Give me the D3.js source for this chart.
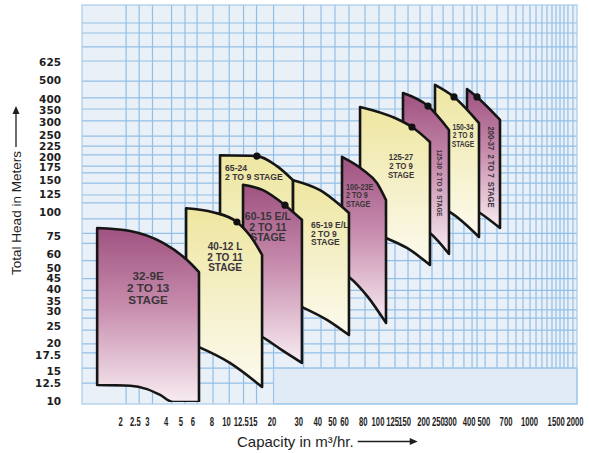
<!DOCTYPE html>
<html><head><meta charset="utf-8">
<script src="https://cdn.jsdelivr.net/npm/d3@7"></script>
<style>
body{margin:0;background:#fff;}
svg{display:block;}
</style>
</head><body>
<svg id="chart" width="589" height="453"></svg>
<script>
// ---------- DATA ----------
const xTickValues = [2, 2.5, 3, 4, 5, 6, 8, 10, 12.5, 15, 20, 30, 40, 50, 60, 80, 100, 125, 150, 200, 250, 300, 400, 500, 700, 1000, 1500, 2000];
const yTickValues = [10, 12.5, 15, 17.5, 20, 25, 30, 35, 40, 45, 50, 60, 75, 100, 125, 150, 175, 200, 225, 250, 300, 350, 400, 500, 625];
const xGridValues = [2.19, 2.67, 3.27, 4.37, 5.36, 6.44, 8.21, 10.5, 13.05, 15.9, 20.6, 32.5, 42.4, 52.4, 64.8, 82.7, 102.3, 130.5, 159, 191, 229, 271, 315, 372, 421, 454, 513, 615, 727, 821, 913, 1016, 1113, 1218, 1315, 1419, 1507, 1603, 1702, 1808, 1951];
const yGridValues = [12.6, 15.1, 18.2, 20.3, 24, 27.8, 30.7, 35.5, 39, 45, 56, 69, 78, 93, 113, 124.5, 144, 163, 177, 203, 226, 255, 307, 355, 406, 499, 637, 756, 896, 1012];
const bandStart = [20.6, 15.1];   // capacity, head: plain box at bottom right

const pumpModels = ["32-9E", "40-12 L", "65-24", "60-15 E/L", "65-19 E/L", "100-23E", "125-27", "125-30", "150-34", "200-37"];
const pumpStages = ["2 TO 13", "2 TO 11", "2 TO 9", "2 TO 11", "2 TO 9", "2 TO 9", "2 TO 9", "2 TO 9", "2 TO 8", "2 TO 7"];
const pumpTints  = ["purple", "yellow", "yellow", "purple", "yellow", "purple", "yellow", "purple", "yellow", "purple"];

// upper limit curve of each range, [capacity m3/hr, head m]
const topEdges = [
  [[1.41, 83.3], [2.33, 80.3], [3.84, 69.4], [5.53, 56.4], [6.63, 48.7]],
  [[5.45, 106], [8.2, 101], [11.8, 89.6], [15.1, 72], [17.3, 60]],
  [[9.13, 202], [16.0, 200], [21.7, 177], [27.7, 149]],
  [[12.95, 141], [17.55, 132], [24.5, 110], [31.7, 92]],
  [[27.7, 149], [41.7, 132], [64.8, 100]],
  [[58.3, 198], [80.2, 169], [99.2, 144], [113.8, 117]],
  [[76.7, 364], [130.5, 318], [168.9, 285], [222, 237.5]],
  [[147.3, 431], [215.4, 368], [296.4, 275]],
  [[239.6, 476], [319.9, 411], [467.7, 299]],
  [[389.8, 453], [453.8, 411], [643.7, 311]]
];
// lower limit curve of each range
const bottomEdges = [
  [[1.41, 12.3], [2.33, 12.2], [3.01, 11.7], [3.67, 10.9], [4.47, 10], [6.63, 10]],
  [[5.45, 20.8], [6.63, 19.5], [10.6, 16.1], [17.3, 12.0]],
  [[9.13, 34.6], [16.0, 28.9], [27.7, 22.6]],
  [[12.95, 24.6], [17.3, 22.1], [23.4, 18.8], [31.7, 16.1]],
  [[27.7, 33.4], [31.7, 31.8], [46.4, 27.2], [64.8, 22.6]],
  [[58.3, 48.7], [64.8, 45.9], [86.6, 35.9], [113.8, 26.2]],
  [[76.7, 83.3], [113.8, 73.7], [156.5, 65.3], [222, 53.1]],
  [[147.3, 89.6], [222, 78.4], [296.4, 60.7]],
  [[239.6, 110], [301, 101], [467.7, 74.6]],
  [[389.8, 110], [474.9, 100], [643.7, 83.3]]
];
const bepPoints = [null, [11.8, 89.6], [16.0, 200], [24.5, 110], null, null, [168.9, 285], [215.4, 368], [319.9, 411], [453.8, 411]];

// ---------- LAYOUT ----------
const labelLayout = [
  {at: [3.06, 46.5], mode: "three", anchor: "middle", size: 11.5, lh: 12.2, sx: 1.02},
  {at: [9.85, 66.1], mode: "three", anchor: "middle", size: 10, lh: 10.3, sx: 1.0},
  {at: [9.85, 173], mode: "two", anchor: "start", size: 9, lh: 9.3, sx: 0.96},
  {at: [18.9, 95.3], mode: "three", anchor: "middle", size: 10, lh: 10.2, sx: 1.05},
  {at: [36.4, 86.4], mode: "three", anchor: "start", size: 8.5, lh: 8.7, sx: 1.0},
  {at: [61.9, 137.3], mode: "three", anchor: "start", size: 8.2, lh: 8.6, sx: 0.88},
  {at: [142.9, 197], mode: "three", anchor: "middle", size: 8.2, lh: 9, sx: 0.95},
  {at: [258.5, 144.1], mode: "vertical", size: 8, len: 67},
  {at: [366.6, 285], mode: "three", anchor: "middle", size: 8.4, lh: 8.5, sx: 0.8},
  {at: [561, 175], mode: "vertical", size: 9, len: 81}
];
const drawOrder = [9, 8, 7, 6, 5, 2, 4, 3, 1, 0];
// small pixel nudges of crowded tick labels, as printed
const yTickNudge = {250: -2.5, 225: 0.5, 200: 1.5, 175: 1, 150: 1, 50: -1.5, 40: 1.5, 35: 2.5, 20: -1.5, 15: 2.5};

// ---------- CHART ----------
const svg = d3.select("#chart");
const x = d3.scaleLog().domain([1.12, 2075]).range([82, 577]);
const y = d3.scaleLog().domain([10, 1260]).range([402, 5]);
const [x0, x1] = x.range();
const yTop = 5, yBot = 404;

const defs = svg.append("defs");
defs.append("clipPath").attr("id", "plotClip").append("rect")
  .attr("x", x0).attr("y", yTop).attr("width", x1 - x0).attr("height", yBot - yTop - 2);
const gradStops = {
  purple: [[0, "#9f5280"], [0.45, "#c78cad"], [1, "#f8ecf2"]],
  yellow: [[0, "#eee6a0"], [0.5, "#f5f0c8"], [1, "#fcfaef"]]
};
Object.entries(gradStops).forEach(([k, stops]) => {
  const g = defs.append("linearGradient").attr("id", "grad-" + k)
    .attr("x1", 0).attr("y1", 0).attr("x2", 0).attr("y2", 1);
  stops.forEach(s => g.append("stop").attr("offset", s[0]).attr("stop-color", s[1]));
});

// plot background
svg.append("rect").attr("x", x0).attr("y", yTop).attr("width", x1 - x0).attr("height", yBot - yTop)
  .attr("fill", "#e9f0f7");

const grid = svg.append("g").attr("stroke", "#92bfe7").attr("stroke-width", 1.2);
grid.selectAll("line.h").data(yGridValues).join("line")
  .attr("x1", x0).attr("x2", x1).attr("y1", d => y(d)).attr("y2", d => y(d));
grid.selectAll("line.v").data(xGridValues).join("line")
  .attr("x1", d => x(d)).attr("x2", d => x(d)).attr("y1", yTop).attr("y2", yBot);

// plain box bottom right
svg.append("rect").attr("x", x(bandStart[0])).attr("y", y(bandStart[1]))
  .attr("width", x1 - x(bandStart[0])).attr("height", yBot - y(bandStart[1]))
  .attr("fill", "#e0ebf6").attr("stroke", "#9fc6ea").attr("stroke-width", 1.2);

svg.append("rect").attr("x", x0).attr("y", yTop).attr("width", x1 - x0).attr("height", yBot - yTop)
  .attr("fill", "none").attr("stroke", "#a7cbea").attr("stroke-width", 1.2);

// pump ranges
const lineGen = d3.line().x(d => x(d[0])).y(d => y(d[1])).curve(d3.curveMonotoneX);
const shapes = svg.append("g").attr("clip-path", "url(#plotClip)");

drawOrder.forEach(i => {
  const g = shapes.append("g");
  const top = lineGen(topEdges[i]);
  const bot = lineGen(bottomEdges[i].slice().reverse()).replace(/^M/, "L");
  g.append("path").attr("d", top + bot + "Z")
    .attr("fill", `url(#grad-${pumpTints[i]})`)
    .attr("stroke", "#151515").attr("stroke-width", 2.6).attr("stroke-linejoin", "round");
  if (bepPoints[i]) {
    g.append("circle").attr("cx", x(bepPoints[i][0])).attr("cy", y(bepPoints[i][1])).attr("r", 3.6)
      .attr("fill", "#111");
  }
  const L = labelLayout[i];
  const px = x(L.at[0]), py = y(L.at[1]);
  const font = g.append("g").attr("font-family", "'Liberation Sans', Arial, sans-serif")
    .attr("font-weight", "bold").attr("fill", "#3a3539");
  if (L.mode === "vertical") {
    font.append("text").attr("transform", `translate(${px},${py}) rotate(90)`)
      .attr("text-anchor", "middle").attr("dy", "0.35em").attr("font-size", L.size)
      .attr("textLength", L.len).attr("lengthAdjust", "spacingAndGlyphs")
      .style("white-space", "pre")
      .text(`${pumpModels[i]}  ${pumpStages[i]}  STAGE`);
  } else {
    const lines = L.mode === "two" ? [pumpModels[i], pumpStages[i] + " STAGE"] : [pumpModels[i], pumpStages[i], "STAGE"];
    const t = font.append("g").attr("transform", `translate(${px},${py}) scale(${L.sx},1)`);
    lines.forEach((s, k) => t.append("text").attr("y", k * L.lh).attr("dy", "0.35em")
      .attr("text-anchor", L.anchor).attr("font-size", L.size).text(s));
  }
});

// axes
const fmt = d => String(d);
const yAxis = svg.append("g").attr("transform", `translate(${x0},0)`)
  .call(d3.axisLeft(y).tickValues(yTickValues).tickFormat(fmt).tickSize(0).tickPadding(21));
yAxis.select(".domain").remove();
yAxis.selectAll(".tick").attr("transform", d => `translate(0,${y(d) + (yTickNudge[d] || 0)})`);
yAxis.selectAll("text").attr("font-family", "'DejaVu Sans', sans-serif").attr("font-weight", "bold")
  .attr("font-size", 10.5).attr("fill", "#1e1e1e");

const xAxis = svg.append("g").attr("transform", `translate(0,${yBot - 1})`)
  .call(d3.axisBottom(x).tickValues(xTickValues).tickFormat(fmt).tickSize(0).tickPadding(14.5));
xAxis.select(".domain").remove();
xAxis.selectAll("text").attr("font-family", "'Liberation Sans', Arial, sans-serif").attr("font-weight", "bold")
  .attr("font-size", 12).attr("fill", "#1e1e1e").attr("transform", "scale(0.64,1)");

// titles
const xt = svg.append("text").attr("x", 237).attr("y", 447)
  .attr("font-family", "'Liberation Sans', Arial, sans-serif").attr("font-size", 15).attr("fill", "#1e1e1e")
  .text("Capacity in m³/hr.");
const xtEnd = 237 + xt.node().getComputedTextLength();
svg.append("line").attr("x1", xtEnd + 4).attr("x2", xtEnd + 58).attr("y1", 441.5).attr("y2", 441.5)
  .attr("stroke", "#1e1e1e").attr("stroke-width", 1.3);
svg.append("path").attr("d", `M${xtEnd + 64},441.5 L${xtEnd + 56},438 L${xtEnd + 56},445 Z`).attr("fill", "#1e1e1e");

const yt = svg.append("text").attr("transform", "translate(21,213) rotate(-90)").attr("text-anchor", "middle")
  .attr("font-family", "'Liberation Sans', Arial, sans-serif").attr("font-size", 13.5).attr("fill", "#1e1e1e")
  .text("Total Head in Meters");
const ytTop = 213 - yt.node().getComputedTextLength() / 2;
svg.append("line").attr("x1", 16).attr("x2", 16).attr("y1", ytTop - 4).attr("y2", 113)
  .attr("stroke", "#1e1e1e").attr("stroke-width", 1.3);
svg.append("path").attr("d", "M16,106 L12.5,114 L19.5,114 Z").attr("fill", "#1e1e1e");
</script>
</body></html>
